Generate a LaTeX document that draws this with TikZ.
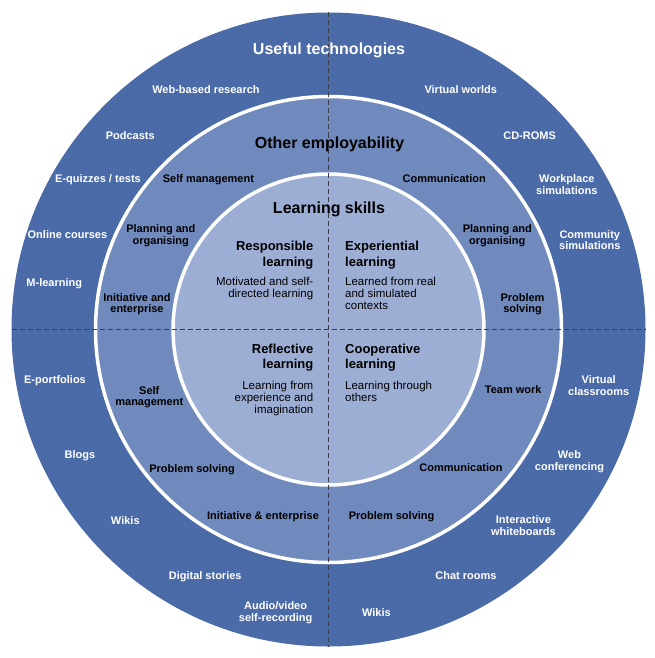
\documentclass[tikz,border=0pt]{standalone}
\usepackage{fontspec}
\setmainfont{Liberation Sans}
\definecolor{ringout}{RGB}{74,106,168}
\definecolor{ringmid}{RGB}{113,138,189}
\definecolor{ringin}{RGB}{157,174,213}
\definecolor{splitgray}{RGB}{58,60,72}

\begin{document}
\begin{tikzpicture}[x=1pt,y=-1pt,
  tech/.style={text=white,font=\bfseries\fontsize{11}{11.5}\selectfont,align=center,anchor=base,inner sep=0pt},
  skill/.style={text=black,font=\bfseries\fontsize{11}{11.5}\selectfont,align=center,anchor=base,inner sep=0pt},
  ringtitle/.style={font=\bfseries\fontsize{16}{18}\selectfont,anchor=base,inner sep=0pt},
  quadhead/.style={font=\bfseries\fontsize{13}{15.5}\selectfont,inner sep=0pt},
  quadtext/.style={font=\fontsize{11.5}{12.3}\selectfont,inner sep=0pt}]
\useasboundingbox (0,0) rectangle (654,658);

\def \rout{317pt};
\def \rmid{233pt};
\def \rin{155.5pt};

\coordinate (c) at (328.5,329.5);
\coordinate (west) at (11.5,329.5);
\coordinate (east) at (645.5,329.5);
\coordinate (north) at (328.5,12.5);
\coordinate (south) at (328.5,646.5);

% three rings
\fill [ringout] (c) circle[radius=\rout];
\draw [white, line width=3.5pt, fill=ringmid] (c) circle[radius=\rmid];
\draw [white, line width=3.5pt, fill=ringin] (c) circle[radius=\rin];

% quadrant split
\draw [splitgray, line width=0.8pt, dash pattern=on 5pt off 3pt] (west) -- (east);
\draw [splitgray, line width=0.8pt, dash pattern=on 5pt off 3pt] (north) -- (south);

% outer ring: useful technologies (node base = last line)
\node [ringtitle, text=white] (usefultech) at (329,55) {Useful technologies};
\node [tech] (webres) at (206,94) {Web-based research};
\node [tech] (podcasts) at (130.3,139.3) {Podcasts};
\node [tech] (equiz) at (98,182) {E-quizzes / tests};
\node [tech] (online) at (67.4,238) {Online courses};
\node [tech] (mlearn) at (54.3,286.7) {M-learning};
\node [tech] (eport) at (55,383.7) {E-portfolios};
\node [tech] (blogs) at (80,458.7) {Blogs};
\node [tech] (wikisl) at (125.3,524) {Wikis};
\node [tech] (digstory) at (205.2,579) {Digital stories};
\node [tech] (audiovid) at (275.6,621.3) {Audio/video\\self-recording};
\node [tech] (virtworld) at (460.8,94) {Virtual worlds};
\node [tech] (cdroms) at (529.6,139.3) {CD-ROMS};
\node [tech] (workplace) at (566.8,194) {Workplace\\simulations};
\node [tech] (community) at (589.8,249.7) {Community\\simulations};
\node [tech] (virtclass) at (598.7,395) {Virtual\\classrooms};
\node [tech] (webconf) at (569.5,470.3) {Web\\conferencing};
\node [tech] (whiteb) at (523.4,535.3) {Interactive\\whiteboards};
\node [tech] (chat) at (466,579) {Chat rooms};
\node [tech] (wikisr) at (376.4,616.3) {Wikis};

% middle ring: other employability
\node [ringtitle] (otheremp) at (329.5,148.3) {Other employability};
\node [skill] (selfmanul) at (208.4,182) {Self management};
\node [skill] (planul) at (160.8,244.3) {Planning and\\organising};
\node [skill] (initul) at (137,312.7) {Initiative and\\enterprise};
\node [skill] (selfmanll) at (149.3,405.7) {Self\\management};
\node [skill] (probll) at (192.1,472) {Problem solving};
\node [skill] (initll) at (263,519) {Initiative \& enterprise};
\node [skill] (commur) at (444.3,182) {Communication};
\node [skill] (planur) at (497.3,244.3) {Planning and\\organising};
\node [skill] (probur) at (522.5,312.7) {Problem\\solving};
\node [skill] (teamlr) at (513.2,393) {Team work};
\node [skill] (commlr) at (461,471.3) {Communication};
\node [skill] (problr) at (391.6,519) {Problem solving};

% inner circle: learning skills
\node [ringtitle] (learnskill) at (329,213) {Learning skills};
\node [quadhead, anchor=base east, align=right] (resphead) at (313.5,266) {Responsible\\learning};
\node [quadtext, anchor=base east, align=right] (resptext) at (313.5,297.3) {Motivated and self-\\directed learning};
\node [quadhead, anchor=base west, align=left] (exphead) at (345,266) {Experiential\\learning};
\node [quadtext, anchor=base west, align=left] (exptext) at (345,309.6) {Learned from real\\and simulated\\contexts};
\node [quadhead, anchor=base east, align=right] (reflhead) at (313.5,368.8) {Reflective\\learning};
\node [quadtext, anchor=base east, align=right] (refltext) at (313.5,413.6) {Learning from\\experience and\\imagination};
\node [quadhead, anchor=base west, align=left] (coophead) at (345,368.8) {Cooperative\\learning};
\node [quadtext, anchor=base west, align=left] (cooptext) at (345,401.8) {Learning through\\others};
\end{tikzpicture}
\end{document}
